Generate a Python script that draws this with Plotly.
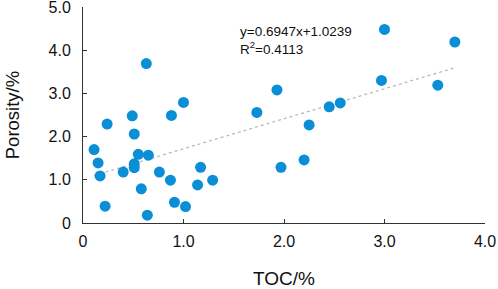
import plotly.graph_objects as go

toc = [0.63, 0.24, 0.49, 0.51, 0.88, 1.00,
       0.11, 0.15, 0.17, 0.22, 0.40, 0.51, 0.51, 0.55, 0.65, 0.58, 0.64, 0.76,
       0.87, 0.91, 1.02, 1.17, 1.14, 1.29,
       3.00, 3.70, 2.97, 3.53, 1.93, 1.73, 2.45, 2.56, 2.25,
       1.97, 2.20]
porosity = [3.69, 2.29, 2.48, 2.06, 2.49, 2.79,
            1.70, 1.39, 1.09, 0.39, 1.18, 1.37, 1.28, 1.59, 1.57, 0.79, 0.18, 1.18,
            0.99, 0.48, 0.38, 1.29, 0.88, 0.99,
            4.48, 4.19, 3.30, 3.19, 3.08, 2.56, 2.69, 2.78, 2.27,
            1.29, 1.46]

slope = 0.6947
intercept = 1.0239
r2 = 0.4113

x_ticks = [0, 1, 2, 3, 4]
x_tick_labels = ["0", "1.0", "2.0", "3.0", "4.0"]
y_ticks = [0, 1, 2, 3, 4, 5]
y_tick_labels = ["0", "1.0", "2.0", "3.0", "4.0", "5.0"]

x_title = "TOC/%"
y_title = "Porosity/%"

x_fit = [min(toc), max(toc)]
y_fit = [slope * v + intercept for v in x_fit]

FONT = "Liberation Sans, Arial, sans-serif"
TXT = "#111111"

fig = go.Figure()
fig.add_trace(go.Scatter(x=x_fit, y=y_fit, mode="lines",
                         line=dict(color="#b5b5b5", width=1.2, dash="dot"),
                         hoverinfo="skip", showlegend=False, cliponaxis=False))
fig.add_trace(go.Scatter(x=toc, y=porosity, mode="markers",
                         marker=dict(color="#0A8FD6", size=11, line=dict(width=0)),
                         showlegend=False, cliponaxis=False))

fig.add_annotation(x=1.54, y=4.44, xref="x", yref="y", xanchor="left", yanchor="middle",
                   text=f"y={slope}x+{intercept}", showarrow=False,
                   font=dict(family=FONT, size=13.5, color=TXT))
fig.add_annotation(x=1.54, y=4.05, xref="x", yref="y", xanchor="left", yanchor="middle",
                   text=f"R<sup>2</sup>={r2}", showarrow=False,
                   font=dict(family=FONT, size=13.5, color=TXT))

# axis titles placed in paper coordinates
fig.add_annotation(x=0.5, y=-0.256, xref="paper", yref="paper", xanchor="center", yanchor="middle",
                   text=x_title, showarrow=False, font=dict(family=FONT, size=19, color=TXT))
fig.add_annotation(x=-0.176, y=0.5, xref="paper", yref="paper", xanchor="center", yanchor="middle",
                   text=y_title, textangle=-90, showarrow=False,
                   font=dict(family=FONT, size=18.5, color=TXT))

axis_common = dict(showgrid=False, zeroline=False, showline=True, linecolor="#333",
                   linewidth=1, ticks="inside", ticklen=4, tickcolor="#333",
                   automargin=False, ticklabeloverflow="allow",
                   tickfont=dict(family=FONT, size=16, color=TXT))

fig.update_xaxes(range=[0, 4], tickvals=x_ticks, ticktext=x_tick_labels,
                 ticklabelstandoff=4, **axis_common)
fig.update_yaxes(range=[0, 5], tickvals=y_ticks, ticktext=y_tick_labels,
                 ticklabelstandoff=8, **axis_common)

fig.update_layout(width=498, height=289, margin=dict(l=83, r=13, t=7, b=66),
                  plot_bgcolor="white", paper_bgcolor="white")

fig.write_html("out.html", config={"displayModeBar": False},
               post_script="document.body.style.margin='0';document.body.style.padding='0';")
